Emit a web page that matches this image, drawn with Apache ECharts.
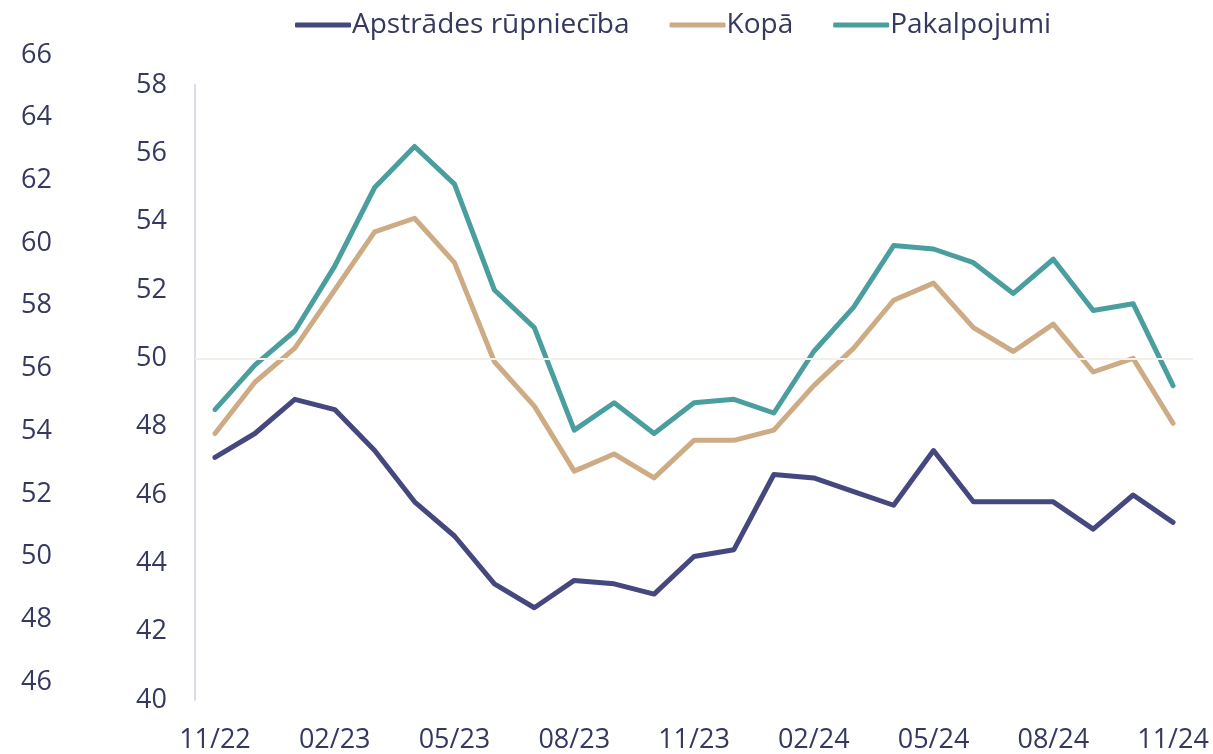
<html>
<head>
<meta charset="utf-8">
<style>body{margin:0;background:#fff}</style>
</head>
<body>
<div id="main" style="width:1213px;height:754px;"></div>
<script type="text/javascript" src="https://cdn.jsdelivr.net/npm/echarts@6/dist/echarts.min.js"></script>
<script type="text/javascript">
// mēneši 11/22 - 11/24
var months = ['11/22','12/22','01/23','02/23','03/23','04/23','05/23','06/23','07/23','08/23','09/23','10/23',
  '11/23','12/23','01/24','02/24','03/24','04/24','05/24','06/24','07/24','08/24','09/24','10/24','11/24'];
var apstrade = [47.1,47.8,48.8,48.5,47.3,45.8,44.8,43.4,42.7,43.5,43.4,43.1,44.2,44.4,46.6,46.5,46.1,45.7,47.3,45.8,45.8,45.8,45.0,46.0,45.2];
var kopa = [47.8,49.3,50.3,52.0,53.7,54.1,52.8,49.9,48.6,46.7,47.2,46.5,47.6,47.6,47.9,49.2,50.3,51.7,52.2,50.9,50.2,51.0,49.6,50.0,48.1];
var pakalpojumi = [48.5,49.8,50.8,52.7,55.0,56.2,55.1,52.0,50.9,47.9,48.7,47.8,48.7,48.8,48.4,50.2,51.5,53.3,53.2,52.8,51.9,52.9,51.4,51.6,49.2];

var txt = '#35385F';
var font = 'Open Sans';
var myChart = echarts.init(document.getElementById('main'));

function lineSeries(name, data, color) {
  return {
    name: name, type: 'line', data: data, symbol: 'none',
    lineStyle: {width: 5, color: color, cap: 'round', join: 'round'},
    itemStyle: {color: color}
  };
}

var s1 = lineSeries('Apstrādes rūpniecība', apstrade, '#45477F');
var s2 = lineSeries('Kopā', kopa, '#CDAC85');
var s3 = lineSeries('Pakalpojumi', pakalpojumi, '#4A9E9D');
s1.markLine = {
  silent: true, symbol: 'none', label: {show: false},
  lineStyle: {color: '#F3F0EA', width: 2, type: 'solid'},
  data: [{yAxis: 50}]
};

var option = {
  animation: false,
  textStyle: {fontFamily: font},
  legend: {
    top: 6, left: 290,
    itemWidth: 56, itemHeight: 5, itemGap: 40,
    icon: 'roundRect',
    textStyle: {color: txt, fontSize: 28, fontFamily: font, padding: [0, 0, 0, -4]},
    data: ['Apstrādes rūpniecība', 'Kopā', 'Pakalpojumi']
  },
  grid: [
    {left: 195, right: 20, top: 85, bottom: 54},
    {left: 80, right: 20, top: 55, bottom: 72}
  ],
  xAxis: [{
    type: 'category', data: months, gridIndex: 0, boundaryGap: true,
    axisLine: {show: false}, axisTick: {show: false},
    axisLabel: {interval: 2, color: txt, fontSize: 27, margin: 27}
  }, {
    type: 'category', data: months, gridIndex: 1, show: false
  }],
  yAxis: [{
    type: 'value', gridIndex: 0, min: 40, max: 58, interval: 2,
    axisLine: {show: true, lineStyle: {color: '#D9DAEC', width: 2}},
    axisTick: {show: false}, splitLine: {show: false},
    axisLabel: {color: txt, fontSize: 27, margin: 28}
  }, {
    type: 'value', gridIndex: 1, min: 46, max: 66, interval: 2,
    axisLine: {show: false}, axisTick: {show: false}, splitLine: {show: false},
    axisLabel: {color: txt, fontSize: 27, margin: 28}
  }],
  series: [s1, s2, s3]
};
myChart.setOption(option);
</script>
</body>
</html>
